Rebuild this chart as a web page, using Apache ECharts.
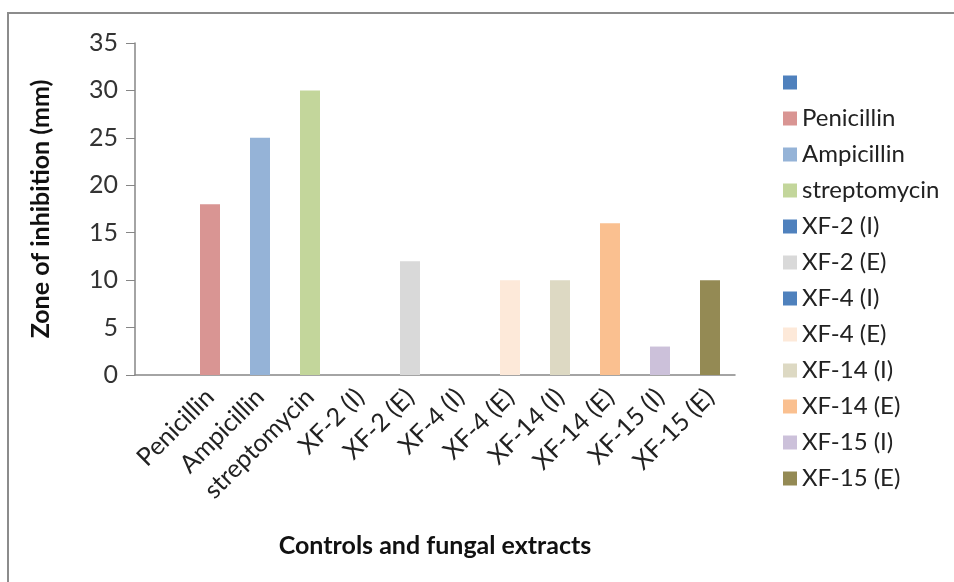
<!DOCTYPE html>
<html>
<head>
<meta charset="utf-8">
<script src="https://cdn.jsdelivr.net/npm/echarts@6/dist/echarts.min.js"></script>
<style>
  html, body { margin: 0; padding: 0; background: #fff; }
  #chart { width: 954px; height: 582px; }
</style>
</head>
<body>
<div id="chart"></div>
<script>
// categories along the x axis (first one is blank in the original)
const categories = ['', 'Penicillin', 'Ampicillin', 'streptomycin', 'XF-2 (I)', 'XF-2 (E)',
  'XF-4 (I)', 'XF-4 (E)', 'XF-14 (I)', 'XF-14 (E)', 'XF-15 (I)', 'XF-15 (E)'];
// zone of inhibition (mm), one per category
const zoneValues = [null, 18, 25, 30, 0, 12, 0, 10, 10, 16, 3, 10];
const barColors = ['#4f81bd', '#d99593', '#95b3d7', '#c3d69b', '#4f81bd', '#d9d9d9',
  '#4f81bd', '#fde9d9', '#ddd9c3', '#fac090', '#ccc1da', '#948a54'];
const yTicks = [0, 5, 10, 15, 20, 25, 30, 35];

const fontFamily = 'Lato, "Open Sans", sans-serif';

// one series per category so each gets its own legend entry
const series = categories.map((name, i) => ({
  name: name === '' ? ' ' : name,
  type: 'bar',
  stack: 'all',
  barWidth: 20,
  itemStyle: { color: barColors[i] },
  data: categories.map((c, j) => (j === i ? zoneValues[i] : null)),
}));

const chart = echarts.init(document.getElementById('chart'));
chart.setOption({
  animation: false,
  textStyle: { fontFamily },
  graphic: [{
    type: 'rect',
    shape: { x: 8, y: 13, width: 980, height: 600 },
    style: { fill: 'none', stroke: '#8c8c8c', lineWidth: 2 },
    silent: true,
  }],
  grid: { left: 135, right: 219, top: 43, bottom: 207 },
  legend: {
    orient: 'vertical',
    left: 778,
    top: 65,
    itemWidth: 14,
    itemHeight: 14,
    itemGap: 11,
    icon: 'rect',
    textStyle: { fontSize: 24, lineHeight: 25, color: '#222', fontFamily },
    data: series.map(s => s.name),
  },
  xAxis: {
    type: 'category',
    data: categories,
    name: 'Controls and fungal extracts',
    nameLocation: 'middle',
    nameGap: 158,
    nameTextStyle: { fontSize: 25, fontWeight: 'bold', color: '#111', fontFamily },
    axisLine: { lineStyle: { color: '#868686', width: 1.5 } },
    axisTick: { length: 6, lineStyle: { color: '#868686' } },
    axisLabel: { interval: 0, rotate: 45, fontSize: 25, color: '#222', margin: 18 },
  },
  yAxis: {
    type: 'value',
    min: yTicks[0],
    max: yTicks[yTicks.length - 1],
    interval: 5,
    name: 'Zone of inhibition (mm)',
    nameLocation: 'middle',
    nameGap: 82,
    nameTextStyle: { fontSize: 25, fontWeight: 'bold', color: '#111', fontFamily },
    axisLine: { show: true, lineStyle: { color: '#868686', width: 1.5 } },
    axisTick: { show: true, length: 9, lineStyle: { color: '#868686' } },
    splitLine: { show: false },
    axisLabel: { fontSize: 25, color: '#333', margin: 17 },
  },
  series,
});
</script>
</body>
</html>
